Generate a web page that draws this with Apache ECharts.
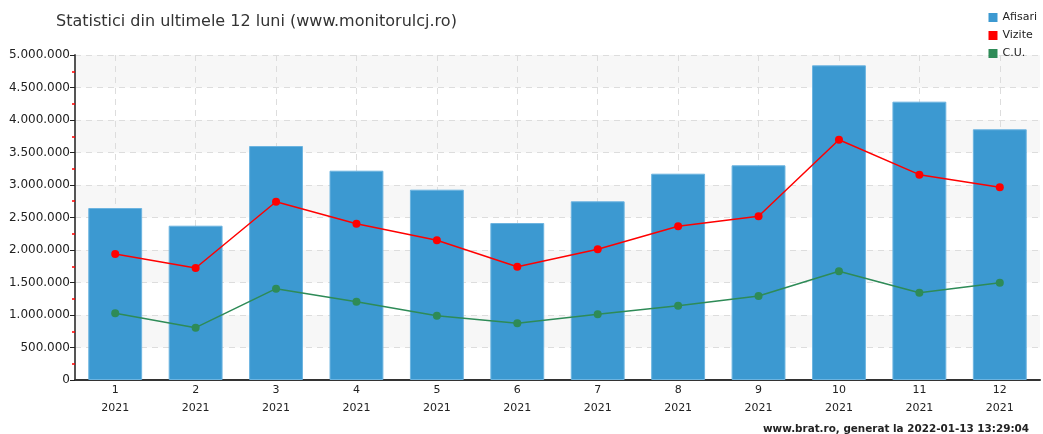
<!DOCTYPE html>
<html><head><meta charset="utf-8">
<script src="https://cdn.jsdelivr.net/npm/echarts@6/dist/echarts.min.js"></script>
<style>html,body{margin:0;padding:0;background:#fff}#c{width:1043px;height:434px}</style>
</head><body><div id="c"></div>
<script>
const months = ['1','2','3','4','5','6','7','8','9','10','11','12'];
const years = ['2021','2021','2021','2021','2021','2021','2021','2021','2021','2021','2021','2021'];
const afisari = [2646000, 2374000, 3600000, 3220000, 2928000, 2415000, 2749000, 3174000, 3303000, 4841000, 4282000, 3857000];
const vizite = [1938000, 1723000, 2743000, 2405000, 2149000, 1743000, 2011000, 2364000, 2518000, 3697000, 3159000, 2965000];
const cu = [1026000, 805000, 1405000, 1205000, 990000, 872000, 1010000, 1143000, 1292000, 1672000, 1343000, 1497000];
const seriesNames = ['Afisari', 'Vizite', 'C.U.'];
const titleText = 'Statistici din ultimele 12 luni (www.monitorulcj.ro)';
const footerText = 'www.brat.ro, generat la 2022-01-13 13:29:04';

const cats = months.map((m, i) => m + '\n' + years[i]);
const fmt = v => String(v).replace(/\B(?=(\d{3})+(?!\d))/g, '.');
const font = '"DejaVu Sans", sans-serif';

const chart = echarts.init(document.getElementById('c'));
chart.setOption({
  animation: false,
  textStyle: {fontFamily: font},
  title: {
    text: titleText, left: 51, top: 9,
    textStyle: {fontFamily: font, fontSize: 16, fontWeight: 'normal', color: '#333'}
  },
  legend: {
    orient: 'vertical', right: 1, top: 7, itemWidth: 9, itemHeight: 9, itemGap: 7,
    icon: 'rect',
    itemStyle: {borderWidth: 0},
    textStyle: {fontFamily: font, fontSize: 11, color: '#222', padding: [0,0,0,0]},
    data: seriesNames
  },
  graphic: [{
    type: 'text', right: 14, bottom: 0,
    style: {text: footerText, fontFamily: font, fontSize: 10.4, fontWeight: 'bold', fill: '#222'}
  }],
  grid: {left: 75, right: 3, top: 55, bottom: 54},
  xAxis: {
    type: 'category', data: cats, boundaryGap: true,
    axisLine: {lineStyle: {color: '#333', width: 2}},
    axisTick: {alignWithLabel: true, length: 4, lineStyle: {color: '#333'}},
    axisLabel: {color: '#222', fontSize: 11, lineHeight: 18, margin: 1, fontFamily: font},
    splitLine: {show: true, alignWithLabel: true, lineStyle: {color: '#ddd', type: [6, 5]}}
  },
  yAxis: {
    type: 'value', min: 0, max: 5000000, interval: 500000,
    axisLine: {show: true, lineStyle: {color: '#555', width: 2}},
    axisTick: {show: true, length: 5, lineStyle: {color: '#222'}},
    minorTick: {show: true, splitNumber: 2, length: 3, lineStyle: {color: '#ff0000', width: 1.5}},
    axisLabel: {color: '#222', fontSize: 12, margin: 5, formatter: fmt, fontFamily: font},
    splitLine: {show: true, lineStyle: {color: '#ddd', type: [6, 5]}},
    splitArea: {show: true, areaStyle: {color: ['#ffffff', '#f7f7f7']}}
  },
  series: [
    {name: seriesNames[0], type: 'bar', data: afisari, barCategoryGap: '33%',
     itemStyle: {color: '#3c99d1', borderColor: '#6cb4e0', borderWidth: 1}},
    {name: seriesNames[1], type: 'line', data: vizite, symbol: 'circle', symbolSize: 8,
     itemStyle: {color: '#ff0000', borderWidth: 0}, lineStyle: {color: '#ff0000', width: 1.5}},
    {name: seriesNames[2], type: 'line', data: cu, symbol: 'circle', symbolSize: 8,
     itemStyle: {color: '#2e8b57', borderWidth: 0}, lineStyle: {color: '#2e8b57', width: 1.5}}
  ]
});
</script></body></html>
